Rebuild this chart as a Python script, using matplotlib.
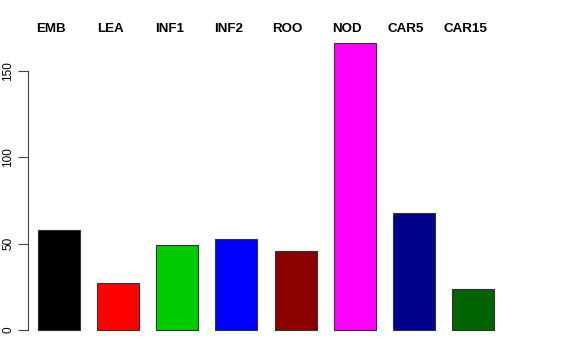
import matplotlib
matplotlib.use("Agg")
import matplotlib.pyplot as plt

# ===== DATA =====
categories = ["EMB", "LEA", "INF1", "INF2", "ROO", "NOD", "CAR5", "CAR15"]
values = [58, 27, 49, 52.5, 45.5, 166, 67.5, 24]
colors = ["black", "red", "#00CD00", "blue", "#8B0000", "magenta", "#00008B", "#006400"]
yticks = [0, 50, 100, 150]

plt.rcParams["font.family"] = ["Liberation Sans", "DejaVu Sans"]

fig = plt.figure(figsize=(5.76, 3.6), dpi=100)
W, H = 576, 360
left_px, right_px = 28, 560
top_px, bottom_px = 31.7, 341.5
ax = fig.add_axes([left_px / W, 1 - bottom_px / H,
                   (right_px - left_px) / W, (bottom_px - top_px) / H])

x = list(range(len(categories)))
ax.bar(x, values, width=0.71, color=colors, edgecolor="#333333", linewidth=0.8)

# bar centre pixel = 59 + 59.14 * index
ax.set_xlim((left_px - 59) / 59.14, (right_px - 59) / 59.14)
ax.set_ylim(-6.65, 172.6)

for s in ["top", "right", "bottom"]:
    ax.spines[s].set_visible(False)
ax.spines["left"].set_bounds(0, 150)
ax.spines["left"].set_color("#444444")
ax.set_xticks([])
ax.set_yticks(yticks)
ax.set_yticklabels([str(t) for t in yticks], rotation=90, va="center", fontsize=8.5)
ax.tick_params(axis="y", length=7, width=0.8, color="#444444", pad=3)

for i, name in enumerate(categories):
    ax.text(i - 0.135, 174.2, name, ha="center", va="center",
            fontsize=9.6, fontweight="bold", clip_on=False)

fig.savefig("out.png", dpi=100)
